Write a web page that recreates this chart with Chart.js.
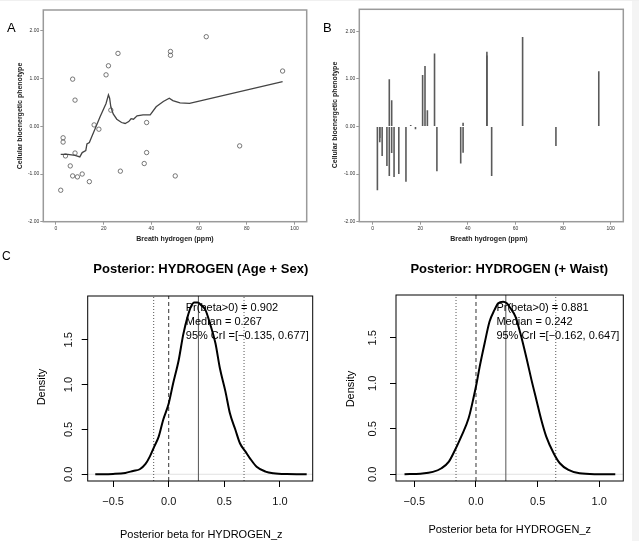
<!DOCTYPE html>
<html>
<head>
<meta charset="utf-8">
<script src="https://cdn.jsdelivr.net/npm/chart.js@4.4.1/dist/chart.umd.min.js"></script>
<style>
  body { margin: 0; background: #fff; }
  #wrap { position: relative; width: 639px; height: 541px; overflow: hidden; background: #fff; }
  #strip { position: absolute; left: 632px; top: 0; width: 7px; height: 541px; background: #f4f4f4; }
  #topline { position: absolute; left: 0; top: 0; width: 639px; height: 1px; background: #f0f0f0; }
  canvas { position: absolute; }
</style>
</head>
<body>
<div id="wrap">
  <div id="strip"></div>
  <div id="topline"></div>
  <canvas id="chartA" width="320" height="250" style="left:0;top:0"></canvas>
  <canvas id="chartB" width="319" height="250" style="left:320px;top:0"></canvas>
  <canvas id="chartC1" width="320" height="291" style="left:0;top:250px"></canvas>
  <canvas id="chartC2" width="319" height="291" style="left:320px;top:250px"></canvas>
</div>
<script>
// panels A and B: breath hydrogen vs cellular bioenergetic phenotype
const hydrogen = [2, 3, 3, 4, 6, 7, 7, 8, 8, 9, 11, 14, 16, 18, 21, 22, 23, 26, 27, 37, 38, 38, 48, 48, 50, 63, 77, 95];
const phenotype = [-1.34, -0.24, -0.33, -0.62, -0.83, 0.99, -1.04, 0.55, -0.56, -1.06, -1.0, -1.16, 0.03, -0.06,
  1.08, 1.27, 0.34, 1.53, -0.94, -0.78, 0.08, -0.55, 1.57, 1.49, -1.04, 1.88, -0.41, 1.16];

// smoother line in panel A
const loessX = [2, 5, 8, 10, 11, 12.5, 13, 14, 15, 16.5, 18.5, 21, 22, 22.5, 23, 24, 25.5, 27.5, 29, 30.5, 31.5,
  32.5, 34, 36.5, 39.5, 42, 45, 47.5, 49, 52, 56, 95];
const loessY = [-0.59, -0.59, -0.61, -0.64, -0.55, -0.51, -0.37, -0.34, -0.22, -0.04, 0.2, 0.48, 0.66, 0.59, 0.41,
  0.26, 0.15, 0.08, 0.06, 0.1, 0.16, 0.15, 0.22, 0.24, 0.24, 0.41, 0.52, 0.59, 0.54, 0.49, 0.48, 0.94];

const phenoTicks = [-2, -1, 0, 1, 2];
const phenoTickLabels = ['-2.00', '-1.00', '0.00', '1.00', '2.00'];
const hydrogenTicks = [0, 20, 40, 60, 80, 100];
const hydrogenTickLabels = ['0', '20', '40', '60', '80', '100'];

// panel C: posterior densities
const densAgeSexX = [-0.66, -0.5, -0.39, -0.32, -0.26, -0.21, -0.17, -0.13, -0.09, -0.05, 0.0, 0.04, 0.09, 0.13,
  0.17, 0.2, 0.23, 0.26, 0.29, 0.33, 0.37, 0.42, 0.46, 0.51, 0.55, 0.6, 0.64, 0.69, 0.73, 0.79, 0.87, 0.94, 1.06, 1.24];
const densAgeSexY = [0, 0.004, 0.015, 0.037, 0.056, 0.112, 0.197, 0.309, 0.42, 0.606, 0.79, 1.015, 1.275, 1.554,
  1.758, 1.87, 1.915, 1.915, 1.888, 1.833, 1.684, 1.461, 1.182, 0.922, 0.68, 0.494, 0.346, 0.253, 0.178, 0.085,
  0.03, 0.011, 0.002, 0];
const densWaistX = [-0.58, -0.45, -0.35, -0.28, -0.22, -0.17, -0.12, -0.06, -0.02, 0.005, 0.03, 0.07, 0.11, 0.15,
  0.18, 0.22, 0.25, 0.28, 0.32, 0.36, 0.41, 0.45, 0.49, 0.53, 0.57, 0.63, 0.68, 0.75, 0.84, 0.98, 1.13];
const densWaistY = [0, 0.007, 0.026, 0.066, 0.139, 0.267, 0.414, 0.615, 0.84, 1.0, 1.183, 1.44, 1.678, 1.806,
  1.879, 1.897, 1.879, 1.824, 1.733, 1.549, 1.275, 1.037, 0.817, 0.597, 0.414, 0.231, 0.121, 0.048, 0.011, 0.001, 0];

const summaryAgeSex = { median: 0.267, lower: -0.135, upper: 0.677 };
const summaryWaist = { median: 0.242, lower: -0.162, upper: 0.647 };
const legendAgeSex = ['Pr(beta>0) = 0.902', 'Median = 0.267', '95% CrI =[\u22120.135, 0.677]'];
const legendWaist = ['Pr(beta>0) = 0.881', 'Median = 0.242', '95% CrI =[\u22120.162, 0.647]'];

const betaTicks = [-0.5, 0, 0.5, 1];
const betaTickLabels = ['\u22120.5', '0.0', '0.5', '1.0'];
const densityTicks = [0, 0.5, 1, 1.5];
const densityTickLabels = ['0.0', '0.5', '1.0', '1.5'];

const FONT = '"Liberation Sans", Arial, Helvetica, sans-serif';

function points(xs, ys) {
  return xs.map((x, i) => ({ x: x, y: ys[i] }));
}

// frame round the plot area plus free text (titles, panel letters, legends)
function decor(frame, items) {
  return {
    id: 'decor',
    afterDraw(chart) {
      const ctx = chart.ctx, a = chart.chartArea;
      ctx.save();
      ctx.strokeStyle = frame.color;
      ctx.lineWidth = frame.width;
      ctx.strokeRect(a.left, a.top, a.right - a.left, a.bottom - a.top);
      items(chart, ctx).forEach(t => {
        ctx.save();
        ctx.font = t.font;
        ctx.fillStyle = t.color || '#000';
        ctx.textAlign = t.align || 'center';
        ctx.textBaseline = t.baseline || 'middle';
        ctx.translate(t.x, t.y);
        if (t.rotate) ctx.rotate(-Math.PI / 2);
        ctx.fillText(t.text, 0, 0);
        ctx.restore();
      });
      ctx.restore();
    }
  };
}

function fixedTicks(values) {
  return scale => { scale.ticks = values.map(v => ({ value: v })); };
}

function spssAxis(min, max, ticks, labels, isX, size) {
  return {
    type: 'linear', min: min, max: max, offset: false,
    afterBuildTicks: fixedTicks(ticks),
    afterFit: s => { if (isX) s.height = size; else s.width = size; },
    ticks: {
      callback: (v, i) => labels[i], autoSkip: false, maxRotation: 0,
      font: { family: FONT, size: 5 }, color: '#333', padding: 1
    },
    grid: { drawOnChartArea: false, drawTicks: true, tickLength: 3, color: '#999', lineWidth: 1, offset: false },
    border: { display: false }
  };
}

function rAxis(min, max, ticks, labels, isX, size, showLabels) {
  return {
    type: 'linear', min: min, max: max, offset: false,
    afterBuildTicks: fixedTicks(ticks),
    afterFit: s => { if (isX) s.height = size; else s.width = size; },
    ticks: {
      display: showLabels, callback: (v, i) => labels[i], autoSkip: false, maxRotation: 0,
      font: { family: FONT, size: 11 }, color: '#111', padding: 8
    },
    grid: { drawOnChartArea: false, drawTicks: true, tickLength: 6, color: '#000', lineWidth: 1, offset: false },
    border: { display: false }
  };
}

const baseOptions = {
  responsive: false,
  animation: false,
  events: [],
  plugins: { legend: { display: false }, tooltip: { enabled: false } }
};

// ---- panel A: scatter with smoother
new Chart(document.getElementById('chartA'), {
  type: 'scatter',
  data: {
    datasets: [
      { data: points(loessX, loessY), showLine: true, borderColor: '#444', borderWidth: 1.3, pointRadius: 0, tension: 0 },
      { data: points(hydrogen, phenotype), pointRadius: 2.2, borderWidth: 0.8, borderColor: '#555',
        backgroundColor: 'rgba(0,0,0,0)' }
    ]
  },
  options: Object.assign({}, baseOptions, {
    layout: { padding: { left: 0, top: 10, right: 13.3, bottom: 0 } },
    scales: {
      x: spssAxis(-5.3, 105.1, hydrogenTicks, hydrogenTickLabels, true, 28.3),
      y: spssAxis(-2, 2.44, phenoTicks, phenoTickLabels, false, 43.3)
    }
  }),
  plugins: [decor({ color: '#9a9a9a', width: 1.5 }, () => [
    { text: 'A', x: 7, y: 32, font: '13px ' + FONT, align: 'left', baseline: 'alphabetic' },
    { text: 'Cellular bioenergetic phenotype', x: 20, y: 116, rotate: true, font: 'bold 7px ' + FONT, color: '#222' },
    { text: 'Breath hydrogen (ppm)', x: 175, y: 239, font: 'bold 7px ' + FONT, color: '#222' }
  ])]
});

// ---- panel B: spikes from zero
new Chart(document.getElementById('chartB'), {
  type: 'bar',
  data: {
    datasets: [
      { data: points(hydrogen, phenotype), backgroundColor: '#5a5a5a', barThickness: 1.6, borderWidth: 0,
        inflateAmount: 0, grouped: false }
    ]
  },
  options: Object.assign({}, baseOptions, {
    layout: { padding: { left: 0, top: 9.3, right: 15.7, bottom: 0 } },
    scales: {
      x: spssAxis(-5.6, 105.3, hydrogenTicks, hydrogenTickLabels, true, 28.3),
      y: spssAxis(-2, 2.46, phenoTicks, phenoTickLabels, false, 39.3)
    }
  }),
  plugins: [decor({ color: '#9a9a9a', width: 1.5 }, () => [
    { text: 'B', x: 3, y: 32, font: '13px ' + FONT, align: 'left', baseline: 'alphabetic' },
    { text: 'Cellular bioenergetic phenotype', x: 15, y: 115, rotate: true, font: 'bold 7px ' + FONT, color: '#222' },
    { text: 'Breath hydrogen (ppm)', x: 169, y: 239, font: 'bold 7px ' + FONT, color: '#222' }
  ])]
});

// ---- panel C: posterior densities
function posteriorChart(id, xs, ys, summary, legend, title, geo) {
  const yMin = geo.yMin, yMax = geo.yMax;
  const vline = (x, dash, color) => ({
    data: [{ x: x, y: yMin }, { x: x, y: yMax }], borderColor: color, borderWidth: 1,
    borderDash: dash, pointRadius: 0, tension: 0
  });
  return new Chart(document.getElementById(id), {
    type: 'line',
    data: {
      datasets: [
        { data: points(xs, ys), borderColor: '#000', borderWidth: 2, pointRadius: 0, cubicInterpolationMode: 'monotone' },
        vline(summary.median, [], '#555'),
        vline(0, [4, 3], '#333'),
        vline(summary.lower, [1, 2], '#555'),
        vline(summary.upper, [1, 2], '#555'),
        { data: [{ x: geo.xMin, y: 0 }, { x: geo.xMax, y: 0 }], borderColor: '#e2e2e2', borderWidth: 1, pointRadius: 0 }
      ]
    },
    options: Object.assign({}, baseOptions, {
      layout: { padding: { left: 0, top: geo.top, right: geo.right, bottom: 0 } },
      scales: {
        x: rAxis(geo.xMin, geo.xMax, betaTicks, betaTickLabels, true, 60, true),
        y: rAxis(yMin, yMax, densityTicks, densityTickLabels, false, geo.left, false)
      }
    }),
    plugins: [decor({ color: '#000', width: 1 }, (chart, ctx) => {
      const a = chart.chartArea;
      const f = '11px ' + FONT;
      ctx.font = f;
      const w = Math.max(...legend.map(l => ctx.measureText(l).width));
      const items = [
        { text: title, x: geo.titleX, y: 19.5, font: 'bold 13px ' + FONT },
        { text: 'Density', x: geo.densX, y: geo.densY, rotate: true, font: f },
        { text: 'Posterior beta for HYDROGEN_z', x: geo.xLabX, y: geo.xLabY, font: f }
      ];
      legend.forEach((l, i) => items.push({ text: l, x: a.right - 4 - w, y: 58.3 + i * 13.7, align: 'left', font: f }));
      densityTicks.forEach((v, i) => items.push({
        text: densityTickLabels[i], x: geo.yLabX, y: chart.scales.y.getPixelForValue(v), rotate: true, font: f, color: '#111'
      }));
      if (geo.letter) items.push({ text: geo.letter, x: 2, y: 10, font: '12px ' + FONT, align: 'left', baseline: 'alphabetic' });
      return items;
    })]
  });
}

posteriorChart('chartC1', densAgeSexX, densAgeSexY, summaryAgeSex, legendAgeSex, 'Posterior: HYDROGEN (Age + Sex)', {
  xMin: -0.728, xMax: 1.294, yMin: -0.075, yMax: 1.988,
  top: 46, right: 7.3, left: 87.7,
  titleX: 200.8, densX: 41.7, densY: 137, xLabX: 201.3, xLabY: 285.3, yLabX: 68.8, letter: 'C'
});

posteriorChart('chartC2', densWaistX, densWaistY, summaryWaist, legendWaist, 'Posterior: HYDROGEN (+ Waist)', {
  xMin: -0.649, xMax: 1.195, yMin: -0.074, yMax: 1.97,
  top: 45, right: 15.7, left: 76,
  titleX: 189.3, densX: 30.7, densY: 139, xLabX: 189.7, xLabY: 280.3, yLabX: 53.3, letter: null
});
</script>
</body>
</html>
